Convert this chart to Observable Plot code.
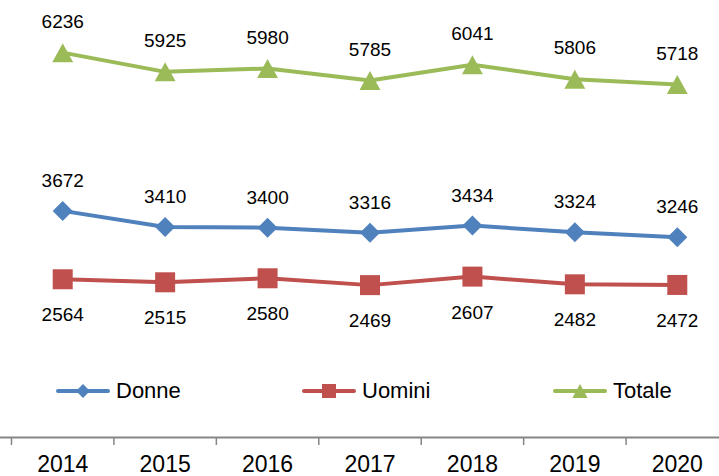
<!DOCTYPE html>
<html><head><meta charset="utf-8">
<script src="https://cdn.jsdelivr.net/npm/d3@7"></script>
<script src="https://cdn.jsdelivr.net/npm/@observablehq/plot@0.6"></script>
<style>
body{margin:0;background:#fff;font-family:"Liberation Sans",Arial,sans-serif;}
#wrap{position:relative;width:719px;height:476px;overflow:hidden;}
.leg{position:absolute;top:377px;height:28px;display:flex;align-items:center;font-size:22px;color:#000;white-space:nowrap;}
.leg svg{display:block;margin-right:4px;}
</style></head><body><div id="wrap"></div>
<script>
const years = [2014, 2015, 2016, 2017, 2018, 2019, 2020];
const donne = [3672, 3410, 3400, 3316, 3434, 3324, 3246];
const uomini = [2564, 2515, 2580, 2469, 2607, 2482, 2472];
const totale = [6236, 5925, 5980, 5785, 6041, 5806, 5718];
const seriesNames = ["Donne", "Uomini", "Totale"];
const seriesColors = ["#4F81BD", "#C0504D", "#9BBB59"];

const values = {Donne: donne, Uomini: uomini, Totale: totale};
const rows = seriesNames.flatMap(s => years.map((year, i) => ({year, series: s, value: values[s][i]})));
const boundaries = [years[0] - 0.5, ...years.map(y => y + 0.5)];

const rad = size => Math.sqrt(size / Math.PI);
const symbols = {
  Donne: {draw(c, size){const r = rad(size); c.moveTo(0,-r); c.lineTo(r,0); c.lineTo(0,r); c.lineTo(-r,0); c.closePath();}},
  Uomini: {draw(c, size){const r = rad(size); c.moveTo(-r,-r); c.lineTo(r,-r); c.lineTo(r,r); c.lineTo(-r,r); c.closePath();}},
  Totale: {draw(c, size){const r = rad(size); c.moveTo(0,-r); c.lineTo(1.1*r,r); c.lineTo(-1.1*r,r); c.closePath();}}
};
const markerR = {Donne: 10, Uomini: 10, Totale: 9.5};
const labelDy = {Donne: -30, Uomini: 36, Totale: -31};

const marks = [
  Plot.axisX({ticks: boundaries, tickSize: 8, tickFormat: () => "", stroke: "#868686", strokeWidth: 1.5, label: null}),
  Plot.ruleY([0], {stroke: "#868686", strokeWidth: 2}),
  Plot.axisX({ticks: years, tickSize: 0, tickPadding: 18, fontSize: 23, tickFormat: d => String(d), fill: "#000", label: null}),
  Plot.line(rows, {x: "year", y: "value", z: "series", stroke: "series", strokeWidth: 4, strokeLinejoin: "round"})
];
for (const s of seriesNames) {
  const d = rows.filter(r => r.series === s);
  const color = seriesColors[seriesNames.indexOf(s)];
  marks.push(Plot.dot(d, {x: "year", y: "value", symbol: symbols[s], r: markerR[s], fill: color, stroke: "none"}));
  marks.push(Plot.text(d, {x: "year", y: "value", text: r => String(r.value), dy: labelDy[s], fontSize: 19, fill: "#000"}));
}

const chart = Plot.plot({
  width: 719,
  height: 476,
  marginTop: 5,
  marginBottom: 39,
  marginLeft: 0,
  marginRight: 0,
  style: {fontFamily: "Liberation Sans, Arial, sans-serif", background: "#fff", overflow: "visible"},
  x: {type: "linear", domain: [years[0] - 0.5, years[years.length - 1] + 0.5], range: [11, 728], label: null},
  y: {domain: [0, 7000], axis: null},
  color: {domain: seriesNames, range: seriesColors},
  marks
});
const wrap = document.getElementById("wrap");
wrap.appendChild(chart);

// Legend
const legendLeft = [56, 302, 553];
const ns = "http://www.w3.org/2000/svg";
seriesNames.forEach((s, i) => {
  const item = document.createElement("div");
  item.className = "leg";
  item.style.left = legendLeft[i] + "px";
  const svg = document.createElementNS(ns, "svg");
  svg.setAttribute("width", 56); svg.setAttribute("height", 20);
  const line = document.createElementNS(ns, "line");
  line.setAttribute("x1", 2); line.setAttribute("x2", 52); line.setAttribute("y1", 10); line.setAttribute("y2", 10);
  line.setAttribute("stroke", seriesColors[i]); line.setAttribute("stroke-width", 4); line.setAttribute("stroke-linecap", "round");
  svg.appendChild(line);
  const p = d3.path();
  symbols[s].draw(p, Math.PI * 7 * 7);
  const path = document.createElementNS(ns, "path");
  path.setAttribute("d", p.toString());
  path.setAttribute("transform", "translate(27,10)");
  path.setAttribute("fill", seriesColors[i]);
  svg.appendChild(path);
  item.appendChild(svg);
  const t = document.createElement("span");
  t.textContent = s;
  item.appendChild(t);
  wrap.appendChild(item);
});
</script>
</body></html>
